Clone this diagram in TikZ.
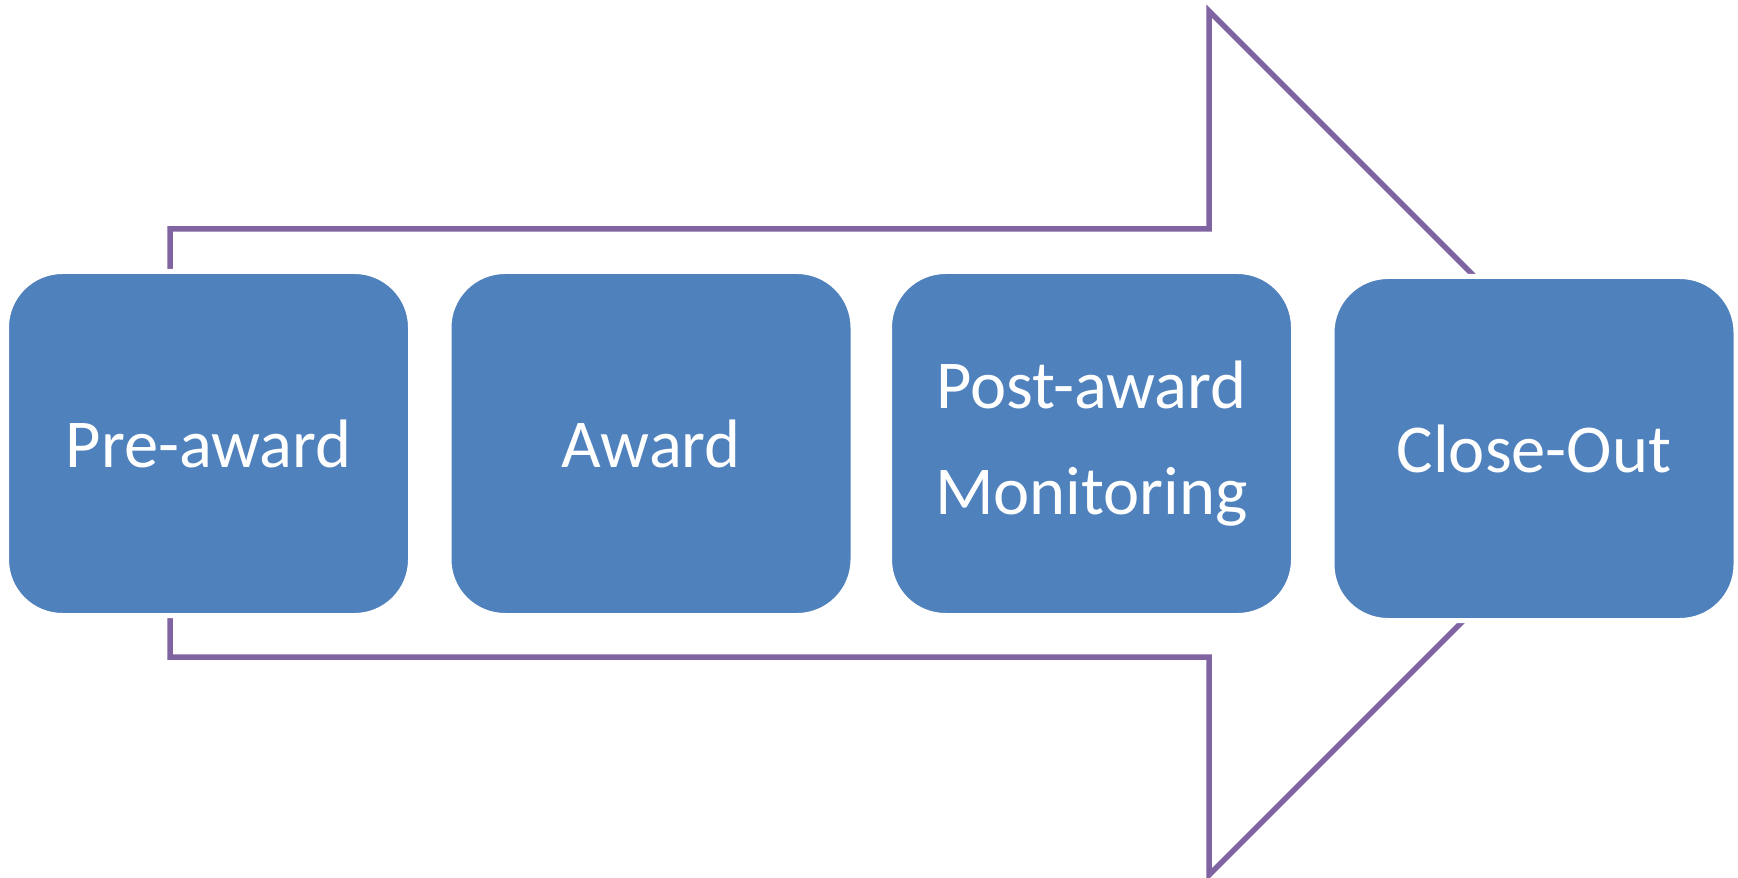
\documentclass[tikz,border=0pt]{standalone}
\usepackage{fontspec}
\setmainfont{Carlito}
\usepackage{tikz}
\usetikzlibrary{positioning}
\usepackage{xcolor}
\definecolor{stageblue}{RGB}{79,129,189}
\definecolor{flowpurple}{RGB}{128,100,162}
\tikzstyle{stage} = [rectangle, rounded corners=0.56cm, fill=stageblue, draw=white, line width=0.05cm,
    minimum width=4.04cm, minimum height=3.44cm, align=center, text=white,
    font=\fontsize{19.5}{30}\selectfont]
\tikzstyle{flow} = [flowpurple, line width=0.055cm, line join=miter]

\begin{document}
\begin{tikzpicture}
\useasboundingbox (0,0) rectangle (17.38,8.77);
% Big process arrow behind the stages
\draw[flow] (1.70,6.08) -- (1.70,6.48) -- (12.09,6.48) -- (12.09,8.66) -- (16.41,4.34)
    -- (12.09,0.02) -- (12.09,2.20) -- (1.70,2.20) -- cycle;

% Stages
\node[stage] (pre) at (2.085,4.335) {Pre-award};
\node[stage] (award) at (6.51,4.335) {Award};
\node[stage] (post) at (10.915,4.335) {Post-award\\Monitoring};
\node[stage] (close) at (15.34,4.285) {Close-Out};
\end{tikzpicture}
\end{document}
